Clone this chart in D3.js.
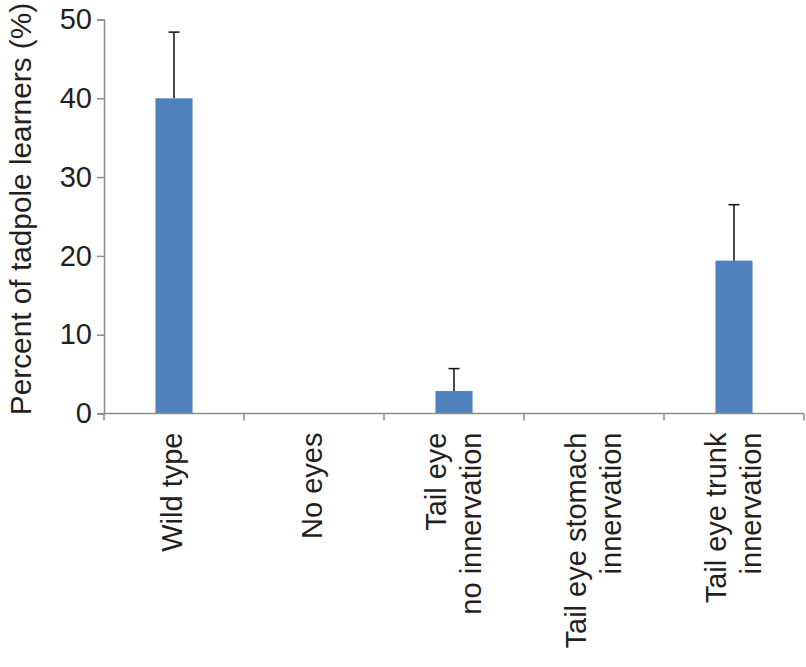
<!DOCTYPE html>
<html>
<head>
<meta charset="utf-8">
<style>
  body { margin: 0; background: white; }
  text { font-family: "Liberation Sans", Arial, sans-serif; fill: #231f20; }
</style>
</head>
<body>
<script src="https://d3js.org/d3.v7.min.js"></script>
<script>
// categories, each label split into its lines
var categories = ["Wild type", "No eyes", "Tail eye no innervation", "Tail eye stomach innervation", "Tail eye trunk innervation"];
var labelLines = [["Wild type"], ["No eyes"], ["Tail eye", "no innervation"], ["Tail eye stomach", "innervation"], ["Tail eye trunk", "innervation"]];
var values = [40.0, 0, 2.85, 0, 19.4];
var errors = [8.4, 0, 2.85, 0, 7.1];
var yTicks = [0, 10, 20, 30, 40, 50];

var w = 806, h = 667;
var margin = {left: 104, right: 2, top: 19.5, bottom: 253.5};

var svg = d3.select("body").append("svg")
  .attr("width", w)
  .attr("height", h);

var x = d3.scaleBand()
  .domain(categories)
  .range([margin.left, w - margin.right])
  .paddingInner(0.735)
  .paddingOuter(0.3675);

var y = d3.scaleLinear()
  .domain([0, 50])
  .range([h - margin.bottom, margin.top]);

// bars
svg.selectAll("rect.bar")
  .data(categories)
  .enter().append("rect")
  .attr("class", "bar")
  .attr("x", function(d) { return x(d); })
  .attr("width", x.bandwidth())
  .attr("y", function(d, i) { return y(values[i]); })
  .attr("height", function(d, i) { return y(0) - y(values[i]); })
  .attr("fill", "#4f81bd");

// error bars (upper only)
var eb = svg.selectAll("g.err")
  .data(categories.filter(function(d, i) { return errors[i] > 0; }))
  .enter().append("g")
  .attr("class", "err");

eb.append("line")
  .attr("x1", function(d) { return x(d) + x.bandwidth() / 2; })
  .attr("x2", function(d) { return x(d) + x.bandwidth() / 2; })
  .attr("y1", function(d) { var i = categories.indexOf(d); return y(values[i]); })
  .attr("y2", function(d) { var i = categories.indexOf(d); return y(values[i] + errors[i]); })
  .attr("stroke-width", 1.4);

eb.append("line")
  .attr("x1", function(d) { return x(d) + x.bandwidth() / 2 - 5.5; })
  .attr("x2", function(d) { return x(d) + x.bandwidth() / 2 + 5.5; })
  .attr("y1", function(d) { var i = categories.indexOf(d); return y(values[i] + errors[i]); })
  .attr("y2", function(d) { var i = categories.indexOf(d); return y(values[i] + errors[i]); })
  .attr("stroke-width", 2);

// y axis
var yAxis = svg.append("g")
  .attr("transform", "translate(" + margin.left + ",0)")
  .call(d3.axisLeft(y).tickValues(yTicks).tickSize(7).tickPadding(5).tickFormat(d3.format("d")));

// x axis: ticks on category boundaries
var xAxis = svg.append("g")
  .attr("transform", "translate(0," + y(0) + ")");

xAxis.append("line")
  .attr("x1", margin.left)
  .attr("x2", w - margin.right)
  .attr("y1", 0).attr("y2", 0);

var step = x.step();
var bounds = d3.range(categories.length + 1).map(function(i) {
  return x(categories[0]) - x.paddingOuter() * step + i * step;
});

xAxis.selectAll("line.tick")
  .data(bounds)
  .enter().append("line")
  .attr("class", "tick")
  .attr("x1", function(d) { return d; })
  .attr("x2", function(d) { return d; })
  .attr("y1", 0).attr("y2", 7);

svg.selectAll(".domain, .tick line, g line")
  .attr("stroke", "#8c8c8c")
  .attr("stroke-width", 1.5);
svg.selectAll("g.err line").attr("stroke", "#111");

yAxis.selectAll("text")
  .style("font-size", "29px")
  .attr("fill", "#231f20");

// category labels, rotated
labelLines.forEach(function(lines, i) {
  var cx = x(categories[i]) + x.bandwidth() / 2;
  var n = lines.length;
  lines.forEach(function(line, j) {
    var off = 7.5 + (j - (n - 1) / 2) * 35 + (n > 1 ? 1.5 : 0);
    svg.append("text")
      .attr("transform", "translate(" + (cx + off) + "," + (y(0) + 19) + ") rotate(-90)")
      .attr("text-anchor", "end")
      .style("font-size", "29px")
      .text(line);
  });
});

// y title
svg.append("text")
  .attr("transform", "translate(31,209) rotate(-90)")
  .attr("text-anchor", "middle")
  .style("font-size", "29.8px")
  .text("Percent of tadpole learners (%)");
</script>
</body>
</html>
